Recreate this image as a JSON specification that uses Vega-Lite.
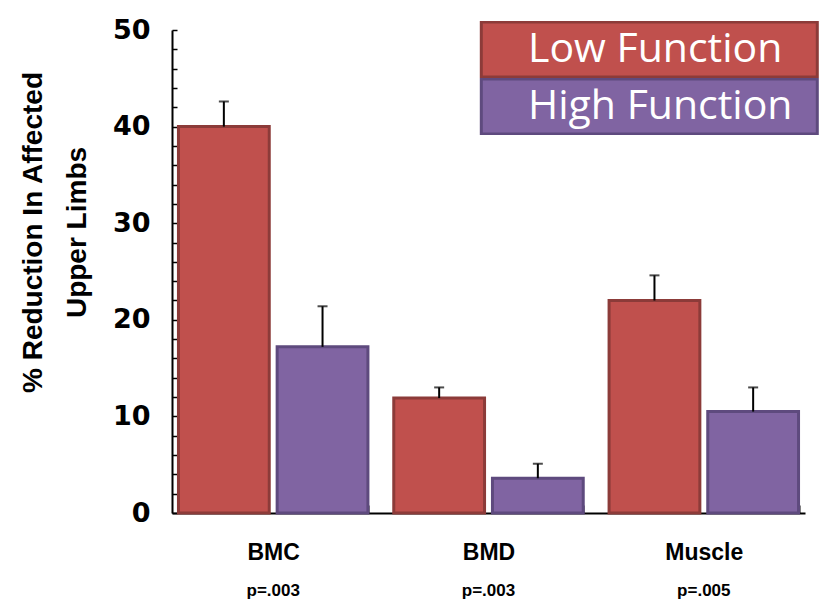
{
  "$schema": "https://vega.github.io/schema/vega-lite/v6.json",
  "width": 633,
  "height": 483,
  "autosize": {"type": "none"},
  "padding": {"left": 172, "top": 30, "right": 18, "bottom": 91},
  "background": "white",
  "config": {
    "view": {"stroke": null},
    "font": "Liberation Sans"
  },
  "data": {
    "values": [
      {"measure": "BMC", "func": "Low Function", "value": 40, "upper": 42.6, "p": "p=.003"},
      {"measure": "BMC", "func": "High Function", "value": 17.2, "upper": 21.4, "p": "p=.003"},
      {"measure": "BMD", "func": "Low Function", "value": 11.9, "upper": 13.0, "p": "p=.003"},
      {"measure": "BMD", "func": "High Function", "value": 3.6, "upper": 5.1, "p": "p=.003"},
      {"measure": "Muscle", "func": "Low Function", "value": 22.0, "upper": 24.6, "p": "p=.005"},
      {"measure": "Muscle", "func": "High Function", "value": 10.5, "upper": 13.0, "p": "p=.005"}
    ]
  },
  "encoding": {
    "x": {
      "field": "measure",
      "type": "nominal",
      "sort": ["BMC", "BMD", "Muscle"],
      "scale": {"paddingInner": 0.12, "paddingOuter": 0.03},
      "axis": {
        "title": null,
        "labelAngle": 0,
        "labelFont": "Liberation Sans",
        "labelFontWeight": "bold",
        "labelFontSize": 23,
        "labelColor": "black",
        "labelPadding": 36,
        "domainColor": "black",
        "domainWidth": 2,
        "ticks": true,
        "tickBand": "extent",
        "tickSize": -8,
        "tickColor": "black",
        "tickWidth": 2
      }
    }
  },
  "layer": [
    {
      "mark": {"type": "bar", "strokeWidth": 3},
      "encoding": {
        "xOffset": {"field": "func", "type": "nominal", "sort": ["Low Function", "High Function"], "scale": {"paddingInner": 0.08}},
        "y": {
          "field": "value",
          "type": "quantitative",
          "scale": {"domain": [0, 50]},
          "axis": {
            "title": ["% Reduction In Affected", "Upper Limbs"],
            "titleFont": "Liberation Sans",
            "titleFontWeight": "bold",
            "titleFontSize": 28,
            "titleLineHeight": 44,
            "titleColor": "black",
            "titlePadding": 21,
            "titleY": 202,
            "values": [0, 2, 4, 6, 8, 10, 12, 14, 16, 18, 20, 22, 24, 26, 28, 30, 32, 34, 36, 38, 40, 42, 44, 46, 48, 50],
            "tickCount": 30,
            "labelExpr": "datum.value % 10 == 0 ? datum.label : ''",
            "labelOverlap": false,
            "labelFont": "DejaVu Sans",
            "labelFontWeight": "bold",
            "labelFontSize": 27,
            "labelColor": "black",
            "labelPadding": 27,
            "grid": false,
            "domainColor": "black",
            "domainWidth": 2,
            "tickColor": "black",
            "tickSize": -5,
            "tickWidth": 1.5
          }
        },
        "color": {
          "field": "func",
          "type": "nominal",
          "scale": {"domain": ["Low Function", "High Function"], "range": ["#C0504D", "#8064A2"]},
          "legend": {
            "title": null,
            "orient": "none",
            "legendX": 305,
            "legendY": -9,
            "padding": 0,
            "symbolType": "M-0.9,-0.98H11.1V0.98H-0.9Z",
            "symbolSize": 3136,
            "symbolStrokeWidth": 3,
            "symbolOpacity": 1,
            "clipHeight": 57,
            "rowPadding": 0,
            "labelOffset": -8,
            "labelExpr": "datum.label + '\u2800\u2800'",
            "labelFont": "Open Sans",
            "labelFontSize": 41,
            "labelColor": "white",
            "labelLimit": 700,
            "encode": {
              "symbols": {"update": {"stroke": {"signal": "datum.value == 'Low Function' ? '#8C3B39' : '#5E4A7E'"}, "opacity": {"value": 1}}}
            }
          }
        },
        "stroke": {
          "field": "func",
          "type": "nominal",
          "scale": {"domain": ["Low Function", "High Function"], "range": ["#8C3B39", "#5E4A7E"]},
          "legend": null
        }
      }
    },
    {
      "mark": {"type": "rule", "color": "black", "strokeWidth": 2},
      "encoding": {
        "xOffset": {"field": "func", "type": "nominal", "sort": ["Low Function", "High Function"], "scale": {"paddingInner": 0.08}},
        "y": {"field": "value", "type": "quantitative"},
        "y2": {"field": "upper"}
      }
    },
    {
      "mark": {"type": "tick", "color": "black", "size": 10, "thickness": 2, "orient": "horizontal"},
      "encoding": {
        "xOffset": {"field": "func", "type": "nominal", "sort": ["Low Function", "High Function"], "scale": {"paddingInner": 0.08}},
        "y": {"field": "upper", "type": "quantitative"}
      }
    },
    {
      "transform": [{"filter": "datum.func == 'Low Function'"}],
      "mark": {"type": "text", "font": "Liberation Sans", "fontWeight": "bold", "fontSize": 17, "color": "black", "dy": 83, "baseline": "alphabetic"},
      "encoding": {
        "y": {"datum": 0, "type": "quantitative"},
        "text": {"field": "p"}
      }
    }
  ]
}
